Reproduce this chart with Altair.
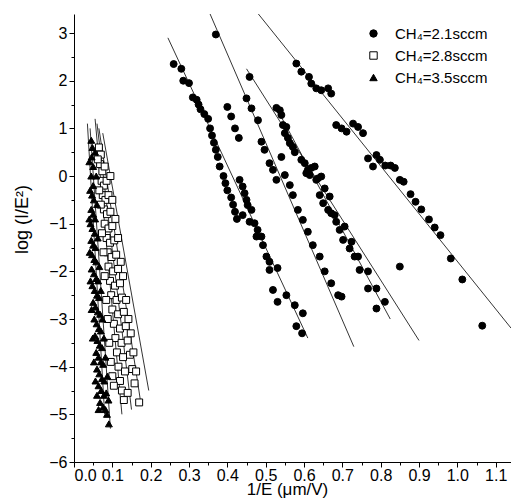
import altair as alt
import pandas as pd

# ---- data ----
circ_x = [0.26, 0.28, 0.285, 0.30, 0.31, 0.32, 0.325, 0.33, 0.34, 0.35, 0.355, 0.36, 0.365, 0.37, 0.375, 0.38, 0.39, 0.395, 0.40, 0.41, 0.415, 0.42, 0.425,
          0.37, 0.40, 0.41, 0.42, 0.43,
          0.458, 0.45, 0.463, 0.48, 0.489, 0.497, 0.51, 0.519, 0.528, 0.55, 0.563, 0.571, 0.584, 0.597, 0.61, 0.623, 0.641, 0.654, 0.671, 0.689, 0.698,
          0.432, 0.44, 0.445, 0.45, 0.453, 0.463, 0.44, 0.458, 0.471, 0.479, 0.476, 0.489, 0.493, 0.502, 0.51, 0.51, 0.531, 0.519, 0.554, 0.531, 0.576, 0.597, 0.58, 0.595,
          0.528, 0.537, 0.541, 0.545, 0.554, 0.55, 0.558, 0.563, 0.571, 0.576, 0.541, 0.593, 0.602, 0.61, 0.619, 0.628, 0.606, 0.615, 0.636, 0.645, 0.632, 0.654, 0.641, 0.667, 0.65, 0.663, 0.671, 0.68, 0.684, 0.693, 0.706, 0.702, 0.724, 0.719, 0.732, 0.741, 0.745, 0.767, 0.767, 0.789, 0.789, 0.811, 0.85,
          0.58, 0.593, 0.613, 0.619, 0.632, 0.645, 0.663, 0.671, 0.684, 0.698, 0.711, 0.728, 0.741, 0.754, 0.767, 0.78, 0.789, 0.798, 0.812, 0.826, 0.837, 0.85, 0.86, 0.878, 0.891, 0.906, 0.926, 0.941, 0.956, 0.983, 1.013, 1.065]
circ_y = [2.35, 2.25, 2.0, 1.95, 1.65, 1.6, 1.5, 1.4, 1.3, 1.2, 1.0, 0.85, 0.7, 0.55, 0.4, 0.2, 0.0, -0.15, -0.3, -0.45, -0.6, -0.75, -0.9,
          2.97, 1.45, 1.25, 1.0, 0.8,
          2.08, 1.63, 1.42, 1.17, 0.72, 0.55, 0.27, 0.13, -0.08, 0.02, -0.19, -0.40, -0.71, -0.92, -1.17, -1.45, -1.69, -2.0, -2.25, -2.5, -2.53,
          -0.08, -0.22, -0.36, -0.5, -0.61, -0.71, -0.82, -0.96, -0.99, -1.13, -1.27, -1.27, -1.45, -1.69, -1.8, -1.97, -1.93, -2.39, -2.5, -2.64, -2.71, -2.88, -3.15, -3.3,
          1.43, 1.38, 1.28, 1.07, 1.03, 0.90, 0.80, 0.69, 0.61, 0.50, 0.40, 0.34, 0.27, 0.13, 0.17, 0.20, 0.06, 0.02, -0.05, -0.01, -0.08, -0.26, -0.40, -0.43, -0.57, -0.71, -0.78, -0.82, -0.96, -1.13, -1.06, -1.34, -1.38, -1.52, -1.69, -1.69, -1.97, -2.0, -2.36, -2.36, -2.78, -2.64, -1.90,
          2.36, 2.19, 2.08, 1.94, 1.84, 1.80, 1.84, 1.73, 1.07, 1.0, 0.93, 1.10, 1.03, 0.90, 0.37, 0.20, 0.44, 0.34, 0.22, 0.22, 0.17, -0.08, -0.12, -0.38, -0.54, -0.70, -0.91, -1.08, -1.24, -1.73, -2.17, -3.14]

sq_x = [0.065, 0.07, 0.068, 0.074, 0.08, 0.072, 0.078, 0.085, 0.075, 0.082, 0.09, 0.078, 0.086, 0.095, 0.08, 0.09, 0.10, 0.085, 0.094, 0.105,
        0.088, 0.098, 0.11, 0.09, 0.102, 0.115, 0.094, 0.107, 0.12, 0.097, 0.111, 0.125, 0.10, 0.115, 0.13, 0.104, 0.12, 0.135,
        0.108, 0.124, 0.14, 0.112, 0.128, 0.146, 0.116, 0.133, 0.152, 0.12, 0.158, 0.125, 0.14, 0.17,
        0.062, 0.066, 0.07, 0.073, 0.077, 0.08, 0.084, 0.088, 0.092, 0.096, 0.10, 0.104, 0.095, 0.10, 0.108, 0.115, 0.122, 0.128,
        0.136, 0.142, 0.148, 0.155, 0.162, 0.13]
sq_y = [0.6, 0.45, 0.25, 0.1, 0.2, -0.1, -0.2, -0.1, -0.4, -0.5, -0.4, -0.7, -0.8, -0.75, -1.0, -1.1, -1.05, -1.3, -1.4, -1.35,
        -1.6, -1.7, -1.65, -1.9, -2.0, -1.95, -2.2, -2.3, -2.25, -2.5, -2.6, -2.55, -2.8, -2.9, -2.85, -3.1, -3.2, -3.15,
        -3.4, -3.5, -3.45, -3.7, -3.8, -3.75, -4.0, -4.1, -4.05, -4.3, -4.35, -4.5, -4.55, -4.75,
        0.35, -0.3, -0.6, -1.2, -1.6, -2.1, -2.6, -3.0, -3.5, -3.9, -4.2, -4.4, 0.0, -0.5, -0.9, -1.3, -1.8, -2.1,
        -2.6, -3.0, -3.3, -3.7, -4.1, -4.7]

tri_x = [0.045, 0.048, 0.046, 0.05, 0.045, 0.05, 0.047, 0.052, 0.045, 0.05, 0.055, 0.043, 0.048, 0.054, 0.045, 0.05, 0.056, 0.047, 0.053, 0.058,
         0.046, 0.052, 0.058, 0.063, 0.048, 0.054, 0.06, 0.065, 0.05, 0.056, 0.062, 0.068, 0.053, 0.059, 0.065, 0.07, 0.055, 0.061, 0.067, 0.073,
         0.058, 0.064, 0.07, 0.076, 0.06, 0.066, 0.073, 0.079, 0.064, 0.071, 0.078, 0.084, 0.068, 0.076, 0.082, 0.091,
         0.040, 0.042, 0.040, 0.041, 0.043, 0.046, 0.049, 0.052, 0.056, 0.06, 0.064, 0.055, 0.058, 0.06, 0.062, 0.066, 0.07, 0.074,
         0.078, 0.082, 0.087, 0.09, 0.086]
tri_y = [0.75, 0.6, 0.4, 0.2, 0.0, -0.2, -0.4, -0.5, -0.7, -0.8, -0.9, -1.0, -1.1, -1.2, -1.35, -1.45, -1.5, -1.65, -1.75, -1.8,
         -1.95, -2.05, -2.15, -2.2, -2.3, -2.4, -2.5, -2.55, -2.65, -2.75, -2.85, -2.9, -3.0, -3.1, -3.2, -3.25, -3.35, -3.45, -3.55, -3.6,
         -3.7, -3.8, -3.9, -3.95, -4.05, -4.15, -4.25, -4.3, -4.4, -4.5, -4.6, -4.55, -4.75, -4.85, -4.9, -5.2,
         0.3, -0.3, -0.9, -1.6, -2.2, -2.8, -3.4, -3.9, -4.3, -4.6, -4.9, 0.5, 0.0, -0.6, -1.3, -1.9, -2.4, -3.0,
         -3.4, -3.8, -4.2, -4.7, -5.0]

# fitted straight lines: start / end points
fit_x1 = [0.245, 0.355, 0.45, 0.53, 0.481, 0.055, 0.06, 0.065, 0.075, 0.035, 0.042]
fit_y1 = [2.9, 3.4, 2.25, 1.4, 3.4, 1.2, 1.1, 1.0, 0.9, 1.1, 1.0]
fit_x2 = [0.61, 0.73, 0.90, 0.825, 1.14, 0.125, 0.15, 0.175, 0.195, 0.08, 0.095]
fit_y2 = [-3.4, -3.58, -3.45, -3.0, -3.19, -5.0, -4.9, -4.8, -4.5, -5.0, -5.3]

labels = ["CH\u2084=2.1sccm", "CH\u2084=2.8sccm", "CH\u2084=3.5sccm"]

pts = pd.concat([
    pd.DataFrame({"x": circ_x, "y": circ_y, "s": labels[0]}),
    pd.DataFrame({"x": sq_x, "y": sq_y, "s": labels[1]}),
    pd.DataFrame({"x": tri_x, "y": tri_y, "s": labels[2]}),
])
rows = []
for i in range(len(fit_x1)):
    rows.append({"id": i, "x": fit_x1[i], "y": fit_y1[i]})
    rows.append({"id": i, "x": fit_x2[i], "y": fit_y2[i]})
fits = pd.DataFrame(rows)

FONT = "Liberation Sans"
xvals = [round(i * 0.05, 2) for i in range(0, 23)]
yvals = [i * 0.5 for i in range(-12, 7)]

xscale = alt.Scale(domain=[0, 1.14], nice=False, zero=False)
yscale = alt.Scale(domain=[-6, 3.4], nice=False, zero=False)

xaxis = alt.Axis(values=xvals, title="1/E (\u03bcm/V)",
                 labelExpr="abs(datum.value*10 - round(datum.value*10)) < 0.001 ? format(datum.value, '.1f') : ''",
                 tickSize={"condition": {"test": "abs(datum.value*10 - round(datum.value*10)) < 0.001", "value": 5}, "value": 3},
                 grid=False, labelOverlap=False, labelFontSize=16, titleFontSize=17,
                 labelPadding=0, labelFont=FONT, titleFont=FONT,
                 domainColor="black", tickColor="black", labelColor="black", titleColor="black",
                 titleFontWeight="normal", titleX=213, titleY=32, titleBaseline="alphabetic")
yaxis = alt.Axis(values=yvals, title="log (I/E\u00b2)",
                 labelExpr="abs(datum.value - round(datum.value)) < 0.001 ? format(datum.value, 'd') : ''",
                 tickSize={"condition": {"test": "abs(datum.value - round(datum.value)) < 0.001", "value": 5}, "value": 3},
                 grid=False, labelOverlap=False, labelFontSize=16, titleFontSize=18,
                 labelPadding=2, labelFont=FONT, titleFont=FONT,
                 domainColor="black", tickColor="black", labelColor="black", titleColor="black",
                 titleFontWeight="normal", titleX=-52, titleY=205, titleBaseline="middle", titleAngle=270)

leg = alt.Legend(title=None, orient="none", legendX=292, legendY=12,
                 labelFontSize=15, labelFont=FONT, labelColor="black",
                 symbolStrokeColor="black", symbolStrokeWidth=1, symbolSize=55,
                 rowPadding=6, padding=0, labelOffset=14)

lines = alt.Chart(fits).mark_line(color="black", strokeWidth=0.8, clip=True).encode(
    x=alt.X("x:Q", scale=xscale, axis=xaxis),
    y=alt.Y("y:Q", scale=yscale, axis=yaxis),
    detail="id:N",
)

points = alt.Chart(pts).mark_point(filled=True, opacity=1, strokeWidth=1, clip=True).encode(
    x=alt.X("x:Q", scale=xscale, axis=xaxis),
    y=alt.Y("y:Q", scale=yscale, axis=yaxis),
    shape=alt.Shape("s:N", scale=alt.Scale(domain=labels, range=["circle", "square", "triangle-up"]), legend=leg),
    fill=alt.Fill("s:N", scale=alt.Scale(domain=labels, range=["black", "white", "black"]), legend=leg),
    stroke=alt.Stroke("s:N", scale=alt.Scale(domain=labels, range=["black", "black", "black"]), legend=leg),
    size=alt.value(48),
)

chart = alt.layer(lines, points).properties(
    width=437, height=448,
    padding={"left": 74, "top": 14, "right": 0, "bottom": 36},
    autosize=alt.AutoSizeParams(type="none"),
    background="white",
).configure_view(stroke=None)

chart.save("out.html", embed_options={"renderer": "svg", "actions": False})
